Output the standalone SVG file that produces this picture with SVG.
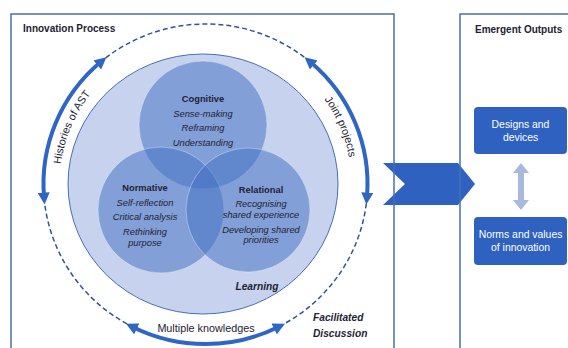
<svg xmlns="http://www.w3.org/2000/svg" width="568" height="348" viewBox="0 0 568 348">
<style>
text{font-family:"Liberation Sans",Arial,sans-serif;fill:#1e2233}
.t{font-size:10px;font-weight:bold}
.h{font-size:9.3px;font-weight:bold;text-anchor:middle}
.i{font-size:9.3px;font-style:italic;text-anchor:middle}
.w{font-size:10.4px;fill:#fff;text-anchor:middle}
.r{font-size:10.8px}
.bi{font-size:10.2px;font-weight:bold;font-style:italic}
.frame{fill:none;stroke:#4a6db5;stroke-width:1.5}
.sub{fill:#4472c4;fill-opacity:0.52;stroke:#ffffff;stroke-opacity:0.45;stroke-width:0.8}
.solid{fill:none;stroke:#2f66c4;stroke-width:4}
.dash{fill:none;stroke:#2f5597;stroke-width:1.5;stroke-dasharray:5 3}
</style>
<defs>
<marker id="ah" viewBox="0 0 12 12" refX="4" refY="6" markerWidth="12" markerHeight="12" markerUnits="userSpaceOnUse" orient="auto-start-reverse">
<path d="M0,0 L12,6 L0,12 z" fill="#2f66c4"/>
</marker>
<path id="tpL" d="M65.9,226.7 A146 146 0 0 1 139.2,53.9"/>
<path id="tpR" d="M271.8,53.9 A146 146 0 0 1 345.1,226.7"/>
</defs>
<rect width="568" height="348" fill="#fff"/>

<g id="chevron">
<polygon points="383,163 458,163 475,184 458,205 383,205 405,184" fill="#2f62c0"/>
</g>

<g id="innovation-process">
<rect class="frame" x="11" y="14" width="383" height="345"/>
<text class="t" x="23" y="32">Innovation Process</text>
</g>

<g id="emergent-outputs">
<rect class="frame" x="460" y="14" width="130" height="345"/>
<text class="t" x="475" y="33">Emergent Outputs</text>
</g>

<g id="learning">
<ellipse cx="203" cy="184" rx="135" ry="130" fill="#c6d2ee" stroke="#4a6cb8" stroke-width="1"/>
<text class="bi" x="257" y="290" text-anchor="middle">Learning</text>
</g>

<g id="cognitive">
<circle class="sub" cx="203" cy="125" r="64"/>
</g>
<g id="normative">
<circle class="sub" cx="161" cy="210" r="63"/>
</g>
<g id="relational">
<circle class="sub" cx="248" cy="210" r="62"/>
</g>

<g id="circle-labels">
<text class="h" x="203" y="102">Cognitive</text>
<text class="i" x="203" y="117">Sense-making</text>
<text class="i" x="203" y="131">Reframing</text>
<text class="i" x="203" y="146">Understanding</text>
<text class="h" x="145" y="191">Normative</text>
<text class="i" x="145" y="206">Self-reflection</text>
<text class="i" x="145" y="220">Critical analysis</text>
<text class="i" x="145" y="235">Rethinking</text>
<text class="i" x="145" y="246">purpose</text>
<text class="h" x="261" y="193">Relational</text>
<text class="i" x="261" y="207">Recognising</text>
<text class="i" x="261" y="218">shared experience</text>
<text class="i" x="261" y="233">Developing shared</text>
<text class="i" x="261" y="243">priorities</text>
</g>

<g id="connectors">
<path class="solid" d="M44.0,196.6 A162 160 0 0 1 100.3,62.3" marker-start="url(#ah)" marker-end="url(#ah)"/>
<path class="solid" d="M310.7,62.3 A162 160 0 0 1 367.0,196.6" marker-start="url(#ah)" marker-end="url(#ah)"/>
<path class="solid" d="M277.8,327.2 A162 160 0 0 1 133.2,327.2" marker-start="url(#ah)" marker-end="url(#ah)"/>
<path class="dash" d="M105.8,57.9 A162 160 0 0 1 305.2,57.9"/>
<path class="dash" d="M366.3,203.5 A162 160 0 0 1 284.0,323.9"/>
<path class="dash" d="M127.0,323.9 A162 160 0 0 1 44.7,203.5"/>
<polygon points="521,163 529,173 524,173 524,200 529,200 521,210 513,200 518,200 518,173 513,173" fill="#a9b8dd"/>
</g>

<g id="ring-labels">
<text class="r"><textPath href="#tpL" startOffset="50%" text-anchor="middle">Histories of AST</textPath></text>
<text class="r"><textPath href="#tpR" startOffset="50%" text-anchor="middle">Joint projects</textPath></text>
<text class="r" x="206" y="332" text-anchor="middle">Multiple knowledges</text>
<text class="bi" x="313" y="321">Facilitated</text>
<text class="bi" x="313" y="337">Discussion</text>
</g>

<g id="designs">
<rect x="474" y="107" width="93" height="47" rx="4" fill="#2f62c0"/>
<text class="w" x="520.5" y="128">Designs and</text>
<text class="w" x="520.5" y="141">devices</text>
</g>
<g id="norms">
<rect x="474" y="217" width="93" height="48" rx="4" fill="#2f62c0"/>
<text class="w" x="520.5" y="238">Norms and values</text>
<text class="w" x="520.5" y="251">of innovation</text>
</g>
</svg>
